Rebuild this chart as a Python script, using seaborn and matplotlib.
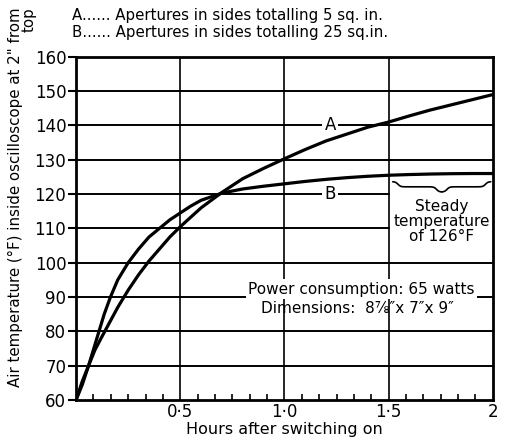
import numpy as np
import pandas as pd
import matplotlib
matplotlib.use("Agg")
import matplotlib.pyplot as plt
import seaborn as sns

# Hours after switching on, and air temperature (deg F) for each aperture size
hours_a = [0, 0.03, 0.06, 0.09, 0.12, 0.16, 0.20, 0.25, 0.30, 0.35, 0.40, 0.45,
           0.50, 0.60, 0.70, 0.80, 0.90, 1.00, 1.10, 1.20, 1.30, 1.40, 1.50,
           1.60, 1.70, 1.80, 1.90, 2.00]
temp_a = [60, 65.5, 70, 74.5, 78, 82.5, 87, 92, 96.5, 100.5, 104, 107.5,
          110.5, 116, 120.5, 124.5, 127.5, 130.3, 133, 135.5, 137.5, 139.5, 141,
          142.8, 144.5, 146, 147.5, 149]

hours_b = [0, 0.03, 0.06, 0.085, 0.11, 0.135, 0.165, 0.20, 0.25, 0.30, 0.35,
           0.40, 0.45, 0.50, 0.55, 0.60, 0.70, 0.80, 0.90, 1.00, 1.10, 1.20,
           1.30, 1.40, 1.50, 1.60, 1.70, 1.80, 1.90, 2.00]
temp_b = [60, 64.5, 70, 75, 80, 85, 90, 95, 100, 104, 107.5,
          110, 112.5, 114.5, 116.5, 118.2, 120.3, 121.5, 122.3, 123, 123.7, 124.3,
          124.8, 125.2, 125.5, 125.7, 125.85, 125.95, 126, 126]

steady_b = 126
y_ticks = [60, 70, 80, 90, 100, 110, 120, 130, 140, 150, 160]
x_ticks = [0.5, 1.0, 1.5, 2.0]
x_tick_labels = ["0·5", "1·0", "1·5", "2"]

df = pd.concat([
    pd.DataFrame({"hours": hours_a, "temp": temp_a, "curve": "A"}),
    pd.DataFrame({"hours": hours_b, "temp": temp_b, "curve": "B"}),
])

sns.set_style("white")
plt.rcParams["font.family"] = ["DejaVu Sans"]
for key in ("text.color", "axes.labelcolor", "xtick.color", "ytick.color"):
    plt.rcParams[key] = "black"

fig = plt.figure(figsize=(5.07, 4.44), dpi=100)
ax = fig.add_axes([0.150, 0.099, 0.822, 0.773])

# grid drawn by hand; the 110 and 120 lines stop where the steady-state note sits
for y in y_ticks[1:-1]:
    xmax = 0.75 if y in (110, 120) else 1.0
    ax.axhline(y, xmax=xmax, color="black", lw=1.4, zorder=1)
for x in x_ticks[:-1]:
    ax.axvline(x, color="black", lw=1.2, zorder=1)

sns.lineplot(data=df, x="hours", y="temp", hue="curve", palette=["black", "black"],
             linewidth=2.3, legend=False, ax=ax, zorder=3, sort=False)

ax.set_xlim(0, 2)
ax.set_ylim(60, 160)
ax.set_yticks(y_ticks)
ax.set_xticks(x_ticks)
ax.set_xticklabels(x_tick_labels)
ax.set_xticks(np.arange(1, 24) / 12, minor=True)
ax.tick_params(axis="y", direction="out", length=6, width=1.5, labelsize=12, pad=1, left=True)
ax.tick_params(axis="x", which="major", direction="in", length=0, labelsize=12, pad=2)
ax.tick_params(axis="x", which="minor", direction="in", length=4, width=1.2, bottom=True)
for s in ax.spines.values():
    s.set_linewidth(2)
    s.set_color("black")
ax.set_xlabel("Hours after switching on", fontsize=11.5, labelpad=1)
ax.set_ylabel("")

fig.text(0.044, 0.556, "Air temperature (°F) inside oscilloscope at 2\" from\ntop",
         rotation=90, ha="center", va="center", multialignment="right",
         fontsize=10.8, linespacing=0.85)

fig.text(0.142, 0.966, "A...... Apertures in sides totalling 5 sq. in.", fontsize=10.8,
         ha="left", va="center")
fig.text(0.142, 0.926, "B...... Apertures in sides totalling 25 sq.in.", fontsize=10.8,
         ha="left", va="center")

white = dict(boxstyle="square,pad=0.15", fc="white", ec="none")
ax.text(1.22, 140, "A", fontsize=12, ha="center", va="center", bbox=white, zorder=2)
ax.text(1.22, 120, "B", fontsize=12, ha="center", va="center", bbox=white, zorder=2)

# curly brace under the steady-state stretch of curve B
bx0, bx1 = 1.52, 1.99
btop = steady_b - 2.4
bdepth = 3.0
xm = (bx0 + bx1) / 2
bx = np.linspace(bx0, xm, 80)
sig = lambda v: 1 / (1 + np.exp(-v))
k, a = 160.0, 0.025
by = btop - bdepth / 2 * (sig(k * (bx - bx0 - a)) - sig(-k * a)
                          + sig(k * (bx - xm + a)))
ax.plot(bx, by, color="black", lw=1.2, zorder=4, solid_capstyle="round")
ax.plot(bx0 + bx1 - bx, by, color="black", lw=1.2, zorder=4, solid_capstyle="round")

ax.text(xm, 112, "Steady\ntemperature\nof 126°F", fontsize=11, ha="center", va="center",
        linespacing=1.0, zorder=2)

ax.text(1.37, 92.3, "Power consumption: 65 watts", fontsize=11, ha="center", va="center",
        bbox=white, zorder=2)
ax.text(1.35, 86.6, "Dimensions:  8⅞″x 7″x 9″", fontsize=11, ha="center", va="center",
        zorder=2)

fig.savefig("out.png", dpi=100, facecolor="white")
